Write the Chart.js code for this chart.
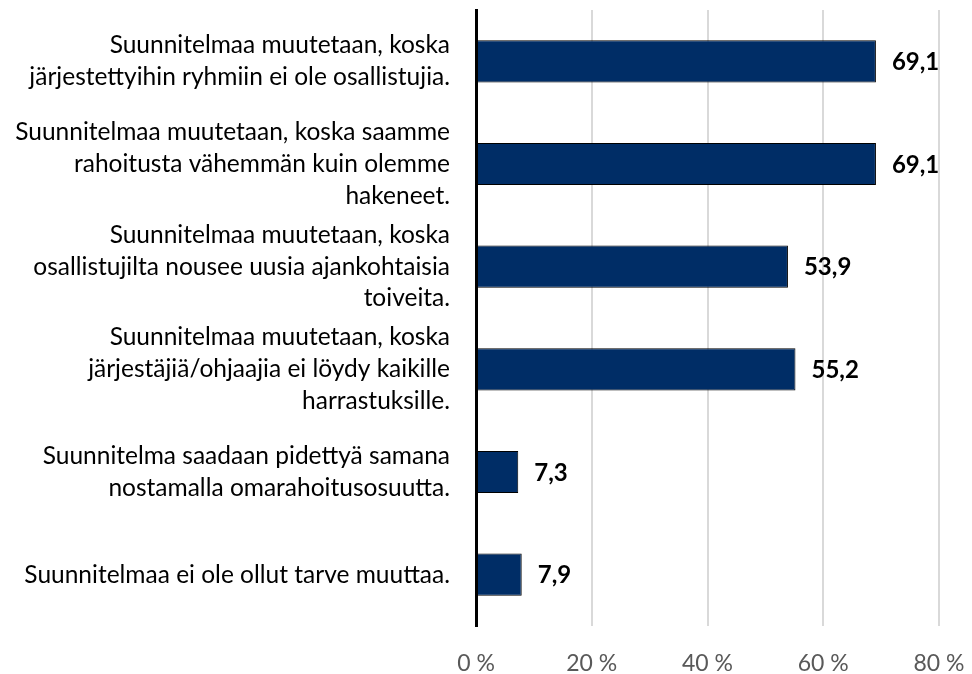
<!DOCTYPE html>
<html>
<head>
<meta charset="utf-8">
<script src="https://cdn.jsdelivr.net/npm/chart.js@4/dist/chart.umd.min.js"></script>
<style>
  html, body { margin: 0; padding: 0; background: #fff; }
  #wrap { width: 972px; height: 674px; }
</style>
</head>
<body>
<div id="wrap"><canvas id="ctx" width="972" height="674"></canvas></div>
<script>
const categories = [
  ['Suunnitelmaa muutetaan, koska', 'järjestettyihin ryhmiin ei ole osallistujia.'],
  ['Suunnitelmaa muutetaan, koska saamme', 'rahoitusta vähemmän kuin olemme', 'hakeneet.'],
  ['Suunnitelmaa muutetaan, koska', 'osallistujilta nousee uusia ajankohtaisia', 'toiveita.'],
  ['Suunnitelmaa muutetaan, koska', 'järjestäjiä/ohjaajia ei löydy kaikille', 'harrastuksille.'],
  ['Suunnitelma saadaan pidettyä samana', 'nostamalla omarahoitusosuutta.'],
  ['Suunnitelmaa ei ole ollut tarve muuttaa.']
]
const values = [69.1, 69.1, 53.9, 55.2, 7.3, 7.9]
const xTicks = [0, 20, 40, 60, 80]

const FONT = "Lato, 'Liberation Sans', sans-serif"

const $chart = document.getElementById('ctx')

// value labels at the end of each bar
const barValues = {
  id: 'barValues',
  afterDatasetsDraw: (chart) => {
    const {ctx} = chart
    const meta = chart.getDatasetMeta(0)
    ctx.save()
    ctx.font = 'bold 24px ' + FONT
    ctx.fillStyle = '#000000'
    ctx.textAlign = 'left'
    ctx.textBaseline = 'middle'
    meta.data.forEach((bar, i) => {
      const txt = values[i].toFixed(1).replace('.', ',')
      ctx.fillText(txt, bar.x + 16, bar.y + 1)
    })
    ctx.restore()
  }
}

const fillChart = {
  id: 'whiteBg',
  beforeDraw: (chart) => {
    const {ctx} = chart
    ctx.save()
    ctx.globalCompositeOperation = 'destination-over'
    ctx.fillStyle = '#ffffff'
    ctx.fillRect(0, 0, chart.width, chart.height)
    ctx.restore()
  }
}

const options = {
  type: 'bar',
  data: {
    labels: categories,
    datasets: [{
      data: values,
      backgroundColor: '#002D66',
      borderColor: '#000000',
      borderWidth: 1,
      borderSkipped: false,
      categoryPercentage: 1,
      barPercentage: 0.41
    }]
  },
  options: {
    indexAxis: 'y',
    responsive: false,
    animation: false,
    layout: { padding: { top: 10, right: 33, left: 0, bottom: 0 } },
    plugins: {
      legend: { display: false },
      tooltip: { enabled: false }
    },
    scales: {
      x: {
        min: 0,
        max: 80,
        afterBuildTicks: (axis) => { axis.ticks = xTicks.map(v => ({value: v})) },
        afterFit: (axis) => {
          axis.height = 48
          axis.paddingLeft = 0
          axis.paddingRight = 0
        },
        grid: { color: '#D9D9D9', lineWidth: 2, drawTicks: false },
        border: { display: false },
        ticks: {
          padding: 24,
          color: '#595959',
          font: { family: FONT, size: 23 },
          callback: (v) => v + ' %'
        }
      },
      y: {
        afterFit: (axis) => {
          axis.width = 476
          axis.paddingTop = 0
          axis.paddingBottom = 0
        },
        grid: { display: false, drawTicks: false },
        border: { display: true, color: '#000000', width: 3 },
        ticks: {
          padding: 26,
          color: '#000000',
          font: { family: FONT, size: 24.5, lineHeight: 1.3 }
        }
      }
    }
  },
  plugins: [barValues, fillChart]
}

var chart = new Chart($chart, options)
</script>
</body>
</html>
